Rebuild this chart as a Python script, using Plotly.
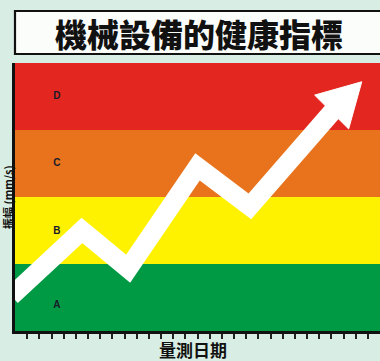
import math
import plotly.graph_objects as go

# ---- data ----
band_edges = [0, 1, 2, 3, 4]
band_colors = ["#009a44", "#fff200", "#e8731c", "#e3261f"]
grade_labels = ["A", "B", "C", "D"]
grade_y = [0.38, 1.49, 2.5, 3.5]
grade_x = 3.45

# health trend (measurement index vs. vibration level)
trend_x = [-0.3, 5.5, 9.3, 15.0, 19.3, 26.2]
trend_y = [0.52, 1.5, 0.93, 2.45, 1.86, 3.3]
tip_x, tip_y = 28.5, 3.72

tick_vals = list(range(1, 30))

title_text = "機械設備的健康指標"
x_title = "量測日期"
y_title = "振幅 (mm/s)"

# ---- layout geometry ----
W, H = 380, 361
ML, MR, MT, MB = 15, 0, 63, 30
PW, PH = W - ML - MR, H - MT - MB
XR = [0, 30]
YR = [0, 4]
sx = PW / (XR[1] - XR[0])
sy = PH / (YR[1] - YR[0])

fig = go.Figure()

# colored bands
shapes = []
for i, c in enumerate(band_colors):
    shapes.append(dict(type="rect", xref="paper", yref="y", x0=0, x1=1,
                       y0=band_edges[i], y1=band_edges[i + 1],
                       fillcolor=c, line=dict(width=0), layer="below"))

# title box (pixels 11..54 from top)
shapes.append(dict(type="rect", xref="paper", yref="paper",
                   x0=0, x1=1.02,
                   y0=(H - MB - 54) / PH, y1=(H - MB - 11) / PH,
                   fillcolor="#fbfdfb", line=dict(color="#111111", width=2.2)))

# arrow shaft
fig.add_trace(go.Scatter(x=trend_x, y=trend_y, mode="lines",
                         line=dict(color="white", width=19),
                         hoverinfo="skip", showlegend=False))

# arrow head (computed in pixel space from base and tip)
bx, by = trend_x[-1], trend_y[-1]
dxp, dyp = (tip_x - bx) * sx, (tip_y - by) * sy
L = math.hypot(dxp, dyp)
ux, uy = dxp / L, dyp / L
half = 24
px_, py_ = -uy * half, ux * half
back = 3
hx = [bx - ux * back / sx + px_ / sx, tip_x, bx - ux * back / sx - px_ / sx]
hy = [by - uy * back / sy + py_ / sy, tip_y, by - uy * back / sy - py_ / sy]
fig.add_trace(go.Scatter(x=hx + [hx[0]], y=hy + [hy[0]], mode="lines",
                         fill="toself", fillcolor="white",
                         line=dict(color="white", width=1),
                         hoverinfo="skip", showlegend=False))

# grade labels
fig.add_trace(go.Scatter(x=[grade_x] * 4, y=grade_y, mode="text",
                         text=grade_labels,
                         textfont=dict(family="Liberation Sans", size=10,
                                       color="#1a1a2a", weight="bold"),
                         hoverinfo="skip", showlegend=False))

annotations = [
    dict(text=title_text, xref="paper", yref="paper",
         x=(199 - ML) / PW, y=(H - MB - 33) / PH, xanchor="center",
         yanchor="middle", showarrow=False,
         font=dict(family="Noto Sans CJK TC", size=32, color="#111111",
                   weight=900)),
    dict(text=x_title, xref="paper", yref="paper",
         x=(193 - ML) / PW, y=-(349 - (H - MB)) / PH, xanchor="center",
         yanchor="middle", showarrow=False,
         font=dict(family="Noto Sans CJK TC", size=17, color="#111111",
                   weight="bold")),
    dict(text=y_title, xref="paper", yref="paper", textangle=-90,
         x=(8 - ML) / PW, y=0.5, xanchor="center", yanchor="middle",
         showarrow=False,
         font=dict(family="Noto Sans CJK TC", size=11, color="#111111",
                   weight="bold")),
]

fig.update_layout(
    width=W, height=H,
    margin=dict(l=ML, r=MR, t=MT, b=MB, pad=0),
    paper_bgcolor="#d8ede3", plot_bgcolor="#d8ede3",
    shapes=shapes, annotations=annotations,
    xaxis=dict(range=XR, showgrid=False, zeroline=False, showline=True,
               linecolor="#111111", linewidth=2.5, ticks="outside",
               tickvals=tick_vals, showticklabels=False, ticklen=5,
               tickwidth=1.5, tickcolor="#222222", fixedrange=True),
    yaxis=dict(range=YR, showgrid=False, zeroline=False, showline=True,
               linecolor="#111111", linewidth=2.5, ticks="",
               showticklabels=False, fixedrange=True),
)

fig.write_html("out.html")
